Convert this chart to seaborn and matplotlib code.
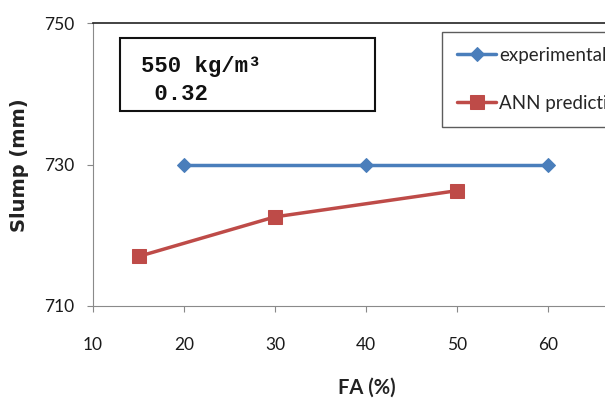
import matplotlib
matplotlib.use("Agg")
import matplotlib.pyplot as plt
import seaborn as sns
import pandas as pd

# Slump of mixes with fly ash replacement
fa_experimental = [20, 40, 60]
slump_experimental = [730, 730, 730]
fa_ann = [15, 30, 50]
slump_ann = [717.0, 722.6, 726.3]

x_ticks = [10, 20, 30, 40, 50, 60]
y_ticks = [710, 730, 750]

series_names = ["experimental", "ANN prediction"]
colors = {"experimental": "#4A7EBB", "ANN prediction": "#BE4B48"}
markers = {"experimental": "D", "ANN prediction": "s"}
marker_sizes = {"experimental": 7.5, "ANN prediction": 9.5}

df = pd.concat([
    pd.DataFrame({"FA": fa_experimental, "Slump": slump_experimental, "series": series_names[0]}),
    pd.DataFrame({"FA": fa_ann, "Slump": slump_ann, "series": series_names[1]}),
])

sns.set_theme(style="white")
plt.rcParams["font.family"] = ["Lato", "DejaVu Sans"]

W, H = 605, 401
ax_left, ax_bottom, ax_top = 93, 306, 23
ax_w = W - ax_left
ax_h = ax_bottom - ax_top

fig = plt.figure(figsize=(W / 100, H / 100), dpi=100)
ax = fig.add_axes([ax_left / W, (H - ax_bottom) / H, ax_w / W, ax_h / H])


def ax_xy(px, py):
    """Pixel position on the canvas -> axes fraction."""
    return (px - ax_left) / ax_w, (ax_bottom - py) / ax_h


for name in series_names:
    sub = df[df["series"] == name]
    sns.lineplot(data=sub, x="FA", y="Slump", ax=ax, color=colors[name],
                 marker=markers[name], markersize=marker_sizes[name],
                 markeredgecolor=colors[name], linewidth=2.5, label=name,
                 legend=False)

ax.set_xlim(10, 10 + ax_w / 9.1)
ax.set_ylim(710, 750)
ax.set_xticks(x_ticks)
ax.set_yticks(y_ticks)
ax.tick_params(axis="both", which="both", length=4, width=0.8, color="#888888",
               direction="out", labelsize=12.5, labelcolor="#1a1a1a")
ax.tick_params(axis="x", pad=18)
ax.tick_params(axis="y", pad=9.5)
ax.tick_params(bottom=True, left=True)

for side in ["left", "bottom"]:
    ax.spines[side].set_color("#8a8a8a")
    ax.spines[side].set_linewidth(0.8)
ax.spines["top"].set_color("#222222")
ax.spines["top"].set_linewidth(1.2)
ax.spines["right"].set_visible(False)

ax.set_xlabel("FA (%)", fontsize=14.5, fontweight="bold", color="#222222")
ax.xaxis.set_label_coords(*ax_xy(367, 388))
ax.xaxis.label.set_verticalalignment("center")

ax.set_ylabel("Slump (mm)", fontsize=14, fontweight="bold", color="#222222",
              family=["DejaVu Sans"])
ax.yaxis.set_label_coords(*ax_xy(20, 165))
ax.yaxis.label.set_verticalalignment("center")

# Mix details box
mono = ["Liberation Mono", "DejaVu Sans Mono"]
ax.text(*ax_xy(141, 72), "550 kg/m\u00b3", transform=ax.transAxes, family=mono,
        fontsize=16, fontweight="bold", va="baseline", ha="left", color="#111111")
ax.text(*ax_xy(141, 100), " 0.32", transform=ax.transAxes, family=mono,
        fontsize=16, fontweight="bold", va="baseline", ha="left", color="#111111")
bx0, by0 = ax_xy(120, 111)
bx1, by1 = ax_xy(375, 38)
ax.add_patch(plt.Rectangle((bx0, by0), bx1 - bx0, by1 - by0, transform=ax.transAxes,
                           fill=False, edgecolor="#111111", linewidth=1.5))

handles, labels = ax.get_legend_handles_labels()
leg = ax.legend(handles, labels, loc="upper left", bbox_to_anchor=ax_xy(442, 32),
                frameon=True, fancybox=False, fontsize=13.5, labelspacing=1.65,
                handlelength=2.1, handletextpad=0.15, borderpad=0.8,
                borderaxespad=0)
leg.get_frame().set_edgecolor("#333333")
leg.get_frame().set_linewidth(1.0)

fig.savefig("out.png", dpi=100)
